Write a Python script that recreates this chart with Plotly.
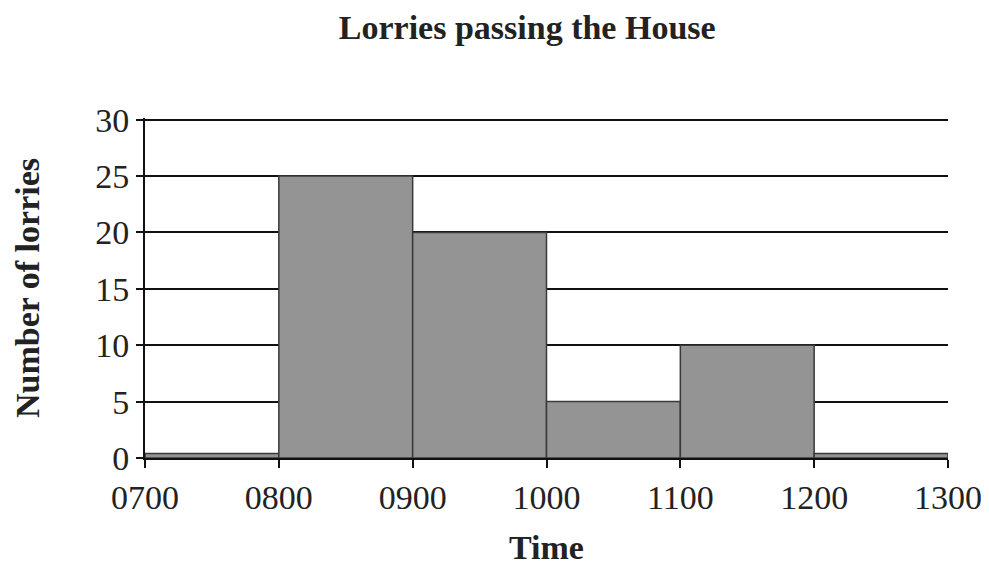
import plotly.graph_objects as go

bin_start = [700, 800, 900, 1000, 1100, 1200]
bin_width = [100, 100, 100, 100, 100, 100]
lorries = [0.4, 25, 20, 5, 10, 0.4]
x_ticks = [700, 800, 900, 1000, 1100, 1200, 1300]
x_labels = ["0700", "0800", "0900", "1000", "1100", "1200", "1300"]

mids = [s + w / 2 for s, w in zip(bin_start, bin_width)]

fig = go.Figure()
fig.add_trace(go.Bar(
    x=mids, y=lorries, width=bin_width,
    marker=dict(color="#949494", line=dict(color="#3a3a3a", width=1.5)),
))

font = "Liberation Serif, Times New Roman, serif"
fig.update_layout(
    width=989, height=565,
    margin=dict(l=137, r=49, t=110, b=115),
    paper_bgcolor="white", plot_bgcolor="white",
    showlegend=False,
    font=dict(family=font, color="#222222", size=34),
    title=dict(text="<b>Lorries passing the House</b>", x=0.525, xanchor="center",
               y=0.967, yanchor="middle", font=dict(size=34, family=font)),
)
fig.update_xaxes(
    range=[700, 1300], tickvals=x_ticks, ticktext=x_labels,
    showgrid=False, showline=True, linecolor="#111111", linewidth=2,
    ticks="outside", ticklen=8, tickwidth=2, tickcolor="#111111",
    title=dict(text="<b>Time</b>", standoff=20, font=dict(size=34)),
)
fig.update_yaxes(
    range=[0, 30.15], tickvals=[0, 5, 10, 15, 20, 25, 30],
    showgrid=True, gridcolor="#111111", gridwidth=2,
    showline=True, linecolor="#111111", linewidth=2,
    ticks="outside", ticklen=7, tickwidth=2, tickcolor="#111111",
    ticklabelstandoff=0,
    title=dict(text="<b>Number of lorries</b>", standoff=45, font=dict(size=34)),
)

fig.write_html("out.html")
